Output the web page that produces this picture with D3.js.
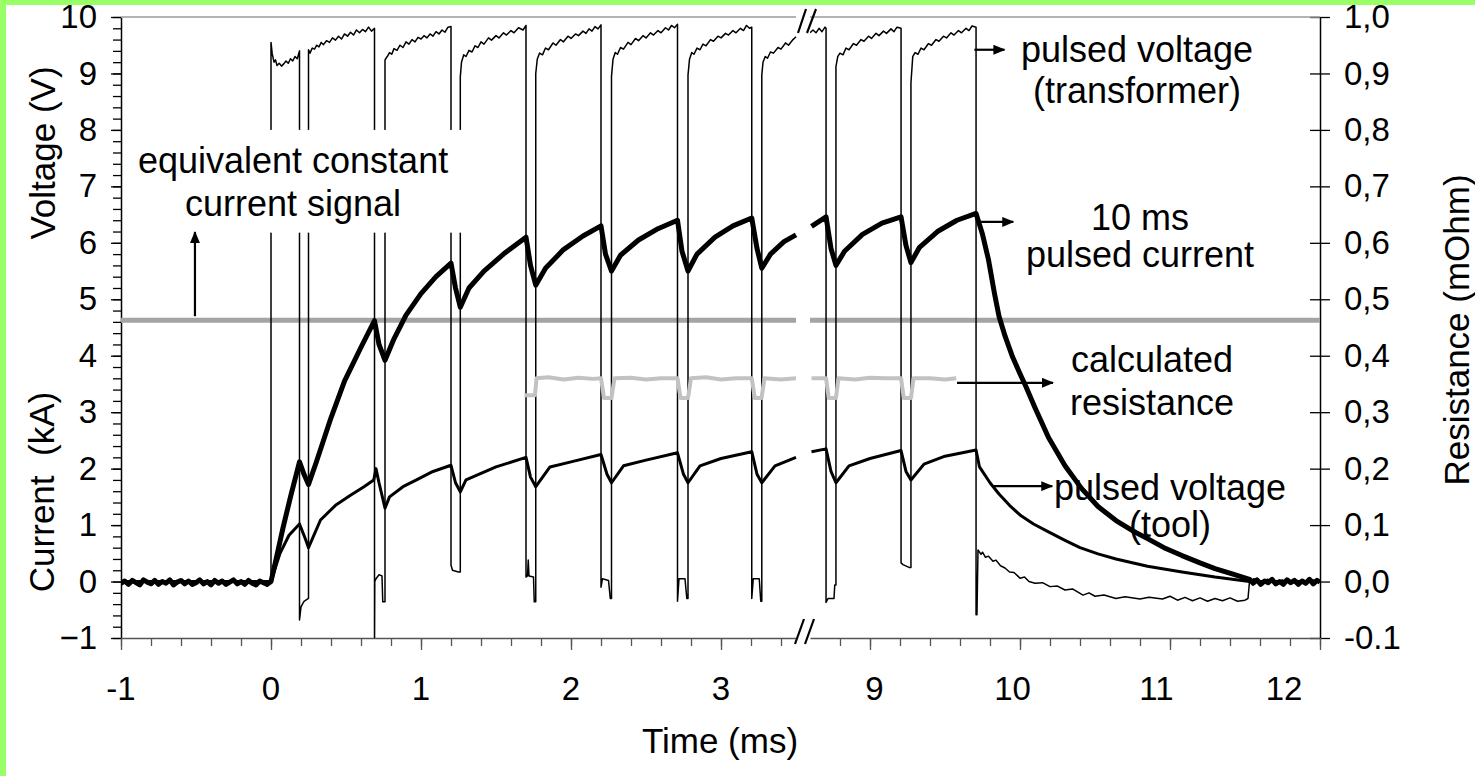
<!DOCTYPE html>
<html>
<head>
<meta charset="utf-8">
<script src="https://cdn.jsdelivr.net/npm/d3@7"></script>
<style>
  body { margin: 0; background: #fff; }
  svg { display: block; font-family: "Liberation Sans", Arial, sans-serif; }
</style>
</head>
<body>
<div id="chart"></div>
<script>
// ---- data (time in ms, voltage in V / current in kA, resistance in mOhm) ----
const equivalentCurrent = 4.63

const currentA = [
  [-1, -0.03], [-0.975, 0.01], [-0.95, -0.05], [-0.925, 0.02], [-0.9, -0.02], [-0.875, -0.06],
  [-0.85, 0.03], [-0.825, -0.01], [-0.8, -0.04], [-0.775, 0.02], [-0.75, -0.05], [-0.725, 0.0],
  [-0.7, -0.03], [-0.675, 0.03], [-0.65, -0.06], [-0.625, -0.01], [-0.6, 0.02], [-0.575, -0.04],
  [-0.55, 0.01], [-0.525, -0.05], [-0.5, -0.02], [-0.475, 0.03], [-0.45, -0.04], [-0.425, 0.0],
  [-0.4, -0.06], [-0.375, 0.02], [-0.35, -0.03], [-0.325, 0.01], [-0.3, -0.05], [-0.275, -0.01],
  [-0.25, 0.03], [-0.225, -0.04], [-0.2, 0.0], [-0.175, -0.05], [-0.15, 0.02], [-0.125, -0.03],
  [-0.1, -0.06], [-0.075, 0.01], [-0.05, -0.02], [-0.025, -0.05], [0, 0],
  [0.03, 0.35], [0.08, 0.95], [0.13, 1.5], [0.19, 2.12], [0.22, 1.9], [0.25, 1.72],
  [0.3, 2.1], [0.4, 2.9], [0.49, 3.55], [0.6, 4.15], [0.69, 4.62], [0.72, 4.2], [0.76, 3.92],
  [0.82, 4.3], [0.9, 4.72], [1.0, 5.1], [1.1, 5.4], [1.2, 5.64], [1.23, 5.2], [1.262, 4.86],
  [1.32, 5.2], [1.42, 5.5], [1.55, 5.8], [1.7, 6.1], [1.73, 5.6], [1.765, 5.25], [1.83, 5.55],
  [1.95, 5.88], [2.08, 6.12], [2.2, 6.3], [2.23, 5.8], [2.27, 5.5], [2.33, 5.78], [2.45, 6.05],
  [2.58, 6.25], [2.71, 6.4], [2.74, 5.85], [2.78, 5.5], [2.84, 5.8], [2.96, 6.1], [3.08, 6.3],
  [3.205, 6.44], [3.24, 5.9], [3.272, 5.55], [3.33, 5.8], [3.42, 6.02], [3.5, 6.14]
]
const currentB = [
  [8.61, 6.29], [8.707, 6.46], [8.74, 5.9], [8.773, 5.6], [8.83, 5.85], [8.95, 6.15],
  [9.08, 6.35], [9.207, 6.46], [9.24, 5.95], [9.273, 5.65], [9.33, 5.92], [9.45, 6.2],
  [9.58, 6.4], [9.707, 6.52], [9.75, 6.15], [9.79, 5.7], [9.83, 5.1], [9.86, 4.7],
  [9.9, 4.35], [9.95, 3.98], [10.0, 3.68], [10.04, 3.45], [10.1, 3.08], [10.19, 2.55],
  [10.3, 2.05], [10.41, 1.65], [10.52, 1.33], [10.64, 1.08], [10.75, 0.9], [10.85, 0.76],
  [10.96, 0.6], [11.08, 0.46], [11.2, 0.33], [11.3, 0.23], [11.42, 0.13], [11.53, 0.04],
  [11.555, -0.03], [11.58, 0.03], [11.605, -0.05], [11.63, 0.01], [11.655, -0.02], [11.68, 0.04],
  [11.705, -0.04], [11.73, 0.0], [11.755, -0.05], [11.78, 0.03], [11.805, -0.02], [11.83, 0.02],
  [11.855, -0.05], [11.88, 0.01], [11.905, -0.03], [11.93, 0.04], [11.955, -0.04], [11.98, 0.02],
  [12.0, -0.01]
]

const toolA = [
  [-1, 0], [0, 0], [0.06, 0.5], [0.12, 0.82], [0.19, 1.02], [0.23, 0.75], [0.25, 0.6],
  [0.33, 1.09], [0.43, 1.35], [0.53, 1.53], [0.62, 1.68], [0.685, 1.8], [0.7, 2.0],
  [0.72, 1.75], [0.76, 1.3], [0.79, 1.5], [0.88, 1.68], [0.97, 1.8], [1.08, 1.95],
  [1.2, 2.06], [1.23, 1.75], [1.262, 1.59], [1.3, 1.8], [1.5, 2.03], [1.7, 2.2], [1.73, 1.85],
  [1.765, 1.68], [1.86, 2.03], [2.0, 2.12], [2.2, 2.25], [2.24, 1.9], [2.27, 1.75],
  [2.35, 2.05], [2.5, 2.15], [2.71, 2.28], [2.75, 1.9], [2.78, 1.75], [2.86, 2.05],
  [3.0, 2.18], [3.205, 2.3], [3.24, 1.9], [3.272, 1.75], [3.36, 2.05], [3.5, 2.2]
]
const toolB = [
  [8.61, 2.3], [8.707, 2.35], [8.74, 1.95], [8.773, 1.75], [8.86, 2.05], [9.0, 2.18],
  [9.207, 2.32], [9.24, 1.95], [9.273, 1.8], [9.36, 2.08], [9.5, 2.22], [9.707, 2.33],
  [9.73, 2.03], [9.8, 1.75], [9.86, 1.55], [9.93, 1.35], [10.0, 1.18], [10.09, 1.02],
  [10.19, 0.88], [10.3, 0.73], [10.4, 0.6], [10.52, 0.49], [10.64, 0.4], [10.85, 0.27],
  [11.08, 0.17], [11.3, 0.08], [11.53, 0.0], [12, 0]
]

const transformerA = [
  [-1, 0], [0, 0],
  [0, 9.55], [0.008, 9.35], [0.02, 9.2], [0.03, 9.24], [0.04, 9.14], [0.055, 9.18], [0.07, 9.13],
  [0.085, 9.17], [0.1, 9.22], [0.115, 9.18], [0.13, 9.26], [0.145, 9.22], [0.16, 9.3], [0.175, 9.26],
  [0.19, 9.4],
  [0.19, -0.68], [0.2, -0.45], [0.22, -0.35], [0.25, -0.3],
  [0.25, 9.42], [0.26, 9.36], [0.275, 9.45], [0.29, 9.43], [0.305, 9.5], [0.32, 9.47], [0.335, 9.55],
  [0.35, 9.51], [0.37, 9.58], [0.39, 9.55], [0.41, 9.63], [0.43, 9.59], [0.45, 9.66], [0.47, 9.61],
  [0.49, 9.7], [0.51, 9.66], [0.53, 9.73], [0.55, 9.68], [0.57, 9.77], [0.59, 9.72], [0.61, 9.78],
  [0.63, 9.74], [0.65, 9.82], [0.67, 9.75], [0.69, 9.8],
  [0.69, -1.2], [0.692, 0.0], [0.7, 0.05], [0.72, 0.12], [0.74, 0.1], [0.745, -0.36], [0.76, -0.36],
  [0.76, 9.24], [0.775, 9.3], [0.79, 9.37], [0.805, 9.34], [0.82, 9.44], [0.84, 9.41], [0.86, 9.5],
  [0.88, 9.46], [0.9, 9.56], [0.92, 9.52], [0.94, 9.6], [0.96, 9.56], [0.98, 9.64], [1.0, 9.61],
  [1.02, 9.67], [1.04, 9.63], [1.06, 9.7], [1.08, 9.66], [1.1, 9.74], [1.12, 9.7], [1.14, 9.77],
  [1.16, 9.73], [1.18, 9.82], [1.2, 9.83],
  [1.2, 0.29], [1.21, 0.2], [1.25, 0.17], [1.262, 0.17],
  [1.262, 8.94], [1.27, 9.2], [1.285, 9.33], [1.3, 9.3], [1.32, 9.41], [1.34, 9.38], [1.36, 9.49],
  [1.38, 9.46], [1.4, 9.56], [1.42, 9.52], [1.45, 9.63], [1.47, 9.59], [1.5, 9.67], [1.52, 9.63],
  [1.55, 9.72], [1.57, 9.68], [1.6, 9.76], [1.62, 9.72], [1.65, 9.81], [1.68, 9.77], [1.7, 9.85],
  [1.7, 0.08], [1.71, 0.1], [1.715, 0.38], [1.72, 0.1], [1.75, 0.08], [1.755, -0.36], [1.765, -0.36],
  [1.765, 9.0], [1.775, 9.25], [1.79, 9.36], [1.81, 9.33], [1.83, 9.45], [1.85, 9.42], [1.88, 9.54],
  [1.9, 9.5], [1.93, 9.6], [1.95, 9.56], [1.98, 9.66], [2.0, 9.62], [2.03, 9.7], [2.05, 9.67],
  [2.08, 9.75], [2.1, 9.71], [2.12, 9.79], [2.14, 9.75], [2.16, 9.83], [2.18, 9.79], [2.2, 9.86],
  [2.2, -0.1], [2.21, 0.05], [2.25, 0.02], [2.262, -0.3], [2.27, -0.3],
  [2.27, 8.95], [2.28, 9.25], [2.295, 9.37], [2.31, 9.34], [2.33, 9.46], [2.35, 9.43], [2.38, 9.55],
  [2.4, 9.51], [2.43, 9.62], [2.45, 9.58], [2.48, 9.67], [2.5, 9.63], [2.53, 9.72], [2.55, 9.68],
  [2.58, 9.76], [2.6, 9.72], [2.63, 9.81], [2.65, 9.77], [2.67, 9.85], [2.69, 9.81], [2.71, 9.87],
  [2.71, -0.35], [2.72, 0.05], [2.76, 0.05], [2.772, -0.3], [2.78, -0.3],
  [2.78, 8.97], [2.79, 9.25], [2.805, 9.37], [2.82, 9.34], [2.84, 9.45], [2.86, 9.42], [2.88, 9.52],
  [2.9, 9.49], [2.93, 9.6], [2.95, 9.57], [2.98, 9.66], [3.0, 9.63], [3.03, 9.71], [3.05, 9.68],
  [3.08, 9.76], [3.1, 9.72], [3.13, 9.8], [3.15, 9.76], [3.17, 9.85], [3.19, 9.8], [3.205, 9.82],
  [3.205, -0.3], [3.215, 0.05], [3.255, 0.05], [3.265, -0.35], [3.272, -0.35],
  [3.272, 8.97], [3.28, 9.2], [3.295, 9.3], [3.31, 9.27], [3.33, 9.38], [3.35, 9.36], [3.38, 9.46],
  [3.4, 9.43], [3.43, 9.54], [3.45, 9.5], [3.48, 9.6], [3.5, 9.65]
]
const transformerB = [
  [8.6, 9.72], [8.62, 9.77], [8.64, 9.72], [8.66, 9.8], [8.68, 9.74], [8.7, 9.82], [8.707, 9.8],
  [8.707, -0.37], [8.72, -0.3], [8.76, -0.3], [8.765, -0.06], [8.773, -0.06],
  [8.773, 9.12], [8.785, 9.3], [8.8, 9.36], [8.82, 9.33], [8.84, 9.45], [8.86, 9.42], [8.89, 9.53],
  [8.91, 9.5], [8.94, 9.6], [8.96, 9.57], [8.99, 9.66], [9.01, 9.62], [9.04, 9.71], [9.06, 9.67],
  [9.09, 9.75], [9.11, 9.71], [9.14, 9.79], [9.16, 9.74], [9.18, 9.82], [9.207, 9.8],
  [9.207, 0.33], [9.22, 0.3], [9.26, 0.25], [9.273, 0.25],
  [9.273, 8.83], [9.285, 9.3], [9.3, 9.37], [9.32, 9.34], [9.34, 9.45], [9.36, 9.42], [9.39, 9.53],
  [9.41, 9.5], [9.44, 9.6], [9.46, 9.57], [9.49, 9.66], [9.51, 9.63], [9.54, 9.72], [9.56, 9.68],
  [9.59, 9.76], [9.61, 9.72], [9.64, 9.8], [9.66, 9.76], [9.68, 9.84], [9.707, 9.82],
  [9.707, -0.59], [9.713, -0.59], [9.72, 0.56], [9.74, 0.48], [9.75, 0.52], [9.77, 0.43],
  [9.79, 0.45], [9.82, 0.36], [9.84, 0.38], [9.87, 0.28], [9.9, 0.24], [9.93, 0.17], [9.96, 0.16],
  [10.0, 0.06], [10.03, 0.08], [10.06, 0.0], [10.1, -0.03], [10.15, -0.02], [10.2, -0.09],
  [10.25, -0.08], [10.3, -0.15], [10.35, -0.13], [10.42, -0.24], [10.46, -0.2], [10.5, -0.26],
  [10.56, -0.24], [10.64, -0.3], [10.7, -0.27], [10.8, -0.31], [10.86, -0.28], [10.95, -0.31],
  [11.0, -0.26], [11.05, -0.33], [11.1, -0.28], [11.15, -0.34], [11.2, -0.29], [11.25, -0.35],
  [11.3, -0.3], [11.35, -0.34], [11.4, -0.29], [11.45, -0.35], [11.5, -0.33],
  [11.52, -0.3], [11.53, 0], [11.56, 0.05], [11.6, -0.02], [11.65, 0.04], [11.7, -0.02],
  [11.75, 0.03], [11.8, -0.03], [11.85, 0.02], [11.9, -0.02], [11.95, 0.03], [12, 0.0]
]

const resistanceA = [
  [1.69, 0.33], [1.76, 0.33], [1.77, 0.36], [1.85, 0.362], [1.95, 0.358], [2.05, 0.361],
  [2.15, 0.359], [2.2, 0.36], [2.22, 0.325], [2.27, 0.325], [2.29, 0.36], [2.4, 0.361],
  [2.5, 0.358], [2.6, 0.36], [2.71, 0.36], [2.73, 0.325], [2.78, 0.325], [2.8, 0.36],
  [2.9, 0.362], [3.0, 0.358], [3.1, 0.36], [3.205, 0.36], [3.225, 0.325], [3.27, 0.325],
  [3.29, 0.36], [3.4, 0.358], [3.5, 0.36]
]
const resistanceB = [
  [8.61, 0.36], [8.707, 0.36], [8.725, 0.325], [8.773, 0.325], [8.79, 0.36], [8.9, 0.358],
  [9.0, 0.361], [9.1, 0.36], [9.207, 0.36], [9.225, 0.325], [9.273, 0.325], [9.29, 0.36],
  [9.4, 0.36], [9.5, 0.358], [9.575, 0.36]
]

const leftTicks = d3.range(-1, 11)
const rightTicks = d3.range(-1, 11).map(i => i / 10)
const rightTickLabels = ['-0.1', '0,0', '0,1', '0,2', '0,3', '0,4', '0,5', '0,6', '0,7', '0,8', '0,9', '1,0']
const timeTicksA = [-1, 0, 1, 2, 3]
const timeTicksB = [9, 10, 11, 12]
const timeLabelsB = ['9', '10', '11', '12']
const timeLabelPosB = [9.03, 9.95, 10.91, 11.76]

// ---- layout ----
const W = 1475, H = 776
const plotTop = 17, plotBottom = 638, plotLeft = 121, plotRight = 1320

const y = d3.scaleLinear().domain([-1, 10]).range([plotBottom, plotTop])
const yR = d3.scaleLinear().domain([-0.1, 1.0]).range([plotBottom, plotTop])
const xA = d3.scaleLinear().domain([-1, 3.5]).range([plotLeft, 796])
const xB = d3.scaleLinear().domain([8.6, 12]).range([810, plotRight])

const svg = d3.select('#chart').append('svg')
  .attr('width', W)
  .attr('height', H)

svg.append('rect').attr('width', W).attr('height', H).attr('fill', '#fff')
// green frame of the original picture
svg.append('rect').attr('x', 0).attr('y', 0).attr('width', 6).attr('height', H).attr('fill', '#99ff66')
svg.append('rect').attr('x', 0).attr('y', 0).attr('width', W).attr('height', 5).attr('fill', '#99ff66')

const defs = svg.append('defs')
defs.append('marker')
  .attr('id', 'arrow')
  .attr('markerUnits', 'userSpaceOnUse')
  .attr('markerWidth', 12).attr('markerHeight', 10)
  .attr('refX', 11).attr('refY', 5)
  .attr('orient', 'auto')
  .append('path').attr('d', 'M0,0 L12,5 L0,10 z').attr('fill', '#000')

defs.append('clipPath').attr('id', 'clipA')
  .append('rect').attr('x', plotLeft).attr('y', plotTop - 10)
  .attr('width', xA(3.5) - plotLeft + 2).attr('height', plotBottom - plotTop + 10)
defs.append('clipPath').attr('id', 'clipB')
  .append('rect').attr('x', xB(8.6)).attr('y', plotTop - 10)
  .attr('width', plotRight - xB(8.6)).attr('height', plotBottom - plotTop + 10)

const segs = [
  { x: xA, clip: 'clipA', current: currentA, tool: toolA, transformer: transformerA, resistance: resistanceA, range: [-1, 3.5] },
  { x: xB, clip: 'clipB', current: currentB, tool: toolB, transformer: transformerB, resistance: resistanceB, range: [8.6, 12] }
]

// ---- axes ----
const fontTick = '33px'
const fontTitle = '35px'

// left axis
svg.append('g')
  .attr('transform', `translate(${plotLeft},0)`)
  .call(d3.axisLeft(y).tickValues(d3.range(-5, 51).map(i => i / 5)).tickSize(8).tickFormat('').tickSizeOuter(0))
  .call(g => g.select('.domain').attr('stroke', '#000').attr('stroke-width', 1.5))
  .call(g => g.selectAll('.tick line').attr('stroke-width', 1.3))
svg.append('g')
  .attr('transform', `translate(${plotLeft},0)`)
  .call(d3.axisLeft(y).tickValues(leftTicks).tickSize(10).tickPadding(14).tickSizeOuter(0))
  .call(g => g.select('.domain').remove())
  .call(g => g.selectAll('.tick line').attr('stroke-width', 1.3))
  .call(g => g.selectAll('text').attr('font-size', fontTick).attr('font-family', null).attr('fill', '#000'))

// right axis
svg.append('g')
  .attr('transform', `translate(${plotRight},0)`)
  .call(d3.axisRight(yR).tickValues(rightTicks).tickSize(10).tickPadding(14).tickSizeOuter(0)
    .tickFormat((d, i) => rightTickLabels[i]))
  .call(g => g.select('.domain').attr('stroke', '#000').attr('stroke-width', 1.5))
  .call(g => g.selectAll('.tick line').attr('stroke-width', 1.3))
  .call(g => g.selectAll('text').attr('font-size', fontTick).attr('font-family', null).attr('fill', '#000'))
svg.append('g')
  .attr('transform', `translate(${plotRight},0)`)
  .call(d3.axisRight(yR).tickValues(rightTicks).tickSize(-10).tickFormat(''))
  .call(g => g.select('.domain').remove())
  .call(g => g.selectAll('.tick line').attr('stroke-width', 1.3))

// bottom axis (two pieces with a break)
segs.forEach((s, i) => {
  const minor = i === 0 ? d3.range(-5, 18).map(v => v / 5) : d3.range(44, 61).map(v => v / 5)
  const major = i === 0 ? timeTicksA : timeTicksB
  svg.append('g')
    .attr('transform', `translate(0,${plotBottom})`)
    .call(d3.axisBottom(s.x).tickValues(minor).tickSize(8).tickFormat('').tickSizeOuter(0))
    .call(g => g.select('.domain').attr('stroke', '#555').attr('stroke-width', 1.5))
    .call(g => g.selectAll('.tick line').attr('stroke', '#555').attr('stroke-width', 1.3))
  svg.append('g')
    .attr('transform', `translate(0,${plotBottom})`)
    .call(d3.axisBottom(s.x).tickValues(major).tickSize(12).tickFormat(''))
    .call(g => g.select('.domain').remove())
    .call(g => g.selectAll('.tick line').attr('stroke', '#555').attr('stroke-width', 1.3))
  // top frame line
  svg.append('line')
    .attr('x1', s.x(s.range[0])).attr('x2', s.x(s.range[1]))
    .attr('y1', plotTop).attr('y2', plotTop)
    .attr('stroke', '#9a9a9a').attr('stroke-width', 1.6)
})

svg.append('g').selectAll('text')
  .data(timeTicksA)
  .join('text')
  .attr('x', d => xA(d))
  .attr('y', 700)
  .attr('text-anchor', 'middle')
  .attr('font-size', fontTick)
  .text(d => d)
svg.append('g').selectAll('text')
  .data(timeLabelsB)
  .join('text')
  .attr('x', (d, i) => xB(timeLabelPosB[i]))
  .attr('y', 700)
  .attr('text-anchor', 'middle')
  .attr('font-size', fontTick)
  .text(d => d)

// break marks
const cx = (xA(3.5) + xB(8.6)) / 2
const breakG = svg.append('g').attr('stroke', '#000').attr('stroke-width', 2.2)
;[[cx - 8, plotBottom + 6, cx + 1, plotBottom - 19], [cx + 2, plotBottom + 6, cx + 11, plotBottom - 19],
  [cx - 5, plotTop + 16, cx + 3, plotTop - 8], [cx + 4, plotTop + 16, cx + 13, plotTop - 8]].forEach(l => {
  breakG.append('line').attr('x1', l[0]).attr('y1', l[1]).attr('x2', l[2]).attr('y2', l[3])
})

// axis titles
svg.append('text').attr('transform', 'translate(55,153) rotate(-90)')
  .attr('text-anchor', 'middle').attr('font-size', fontTitle).text('Voltage (V)')
svg.append('text').attr('transform', 'translate(54,492) rotate(-90)')
  .attr('text-anchor', 'middle').attr('font-size', fontTitle).style('white-space', 'pre').text('Current  (kA)')
svg.append('text').attr('transform', 'translate(1469,330) rotate(-90)')
  .attr('text-anchor', 'middle').attr('font-size', fontTitle).text('Resistance (mOhm)')
svg.append('text').attr('x', 720).attr('y', 753)
  .attr('text-anchor', 'middle').attr('font-size', fontTitle).text('Time (ms)')

// ---- series ----
segs.forEach(s => {
  const g = svg.append('g').attr('clip-path', `url(#${s.clip})`)
  const line = d3.line().x(d => s.x(d[0])).y(d => y(d[1]))
  const lineR = d3.line().x(d => s.x(d[0])).y(d => yR(d[1]))

  g.append('path')
    .attr('d', line([[s.range[0], equivalentCurrent], [s.range[1], equivalentCurrent]]))
    .attr('fill', 'none').attr('stroke', '#a4a4a4').attr('stroke-width', 5)
  g.append('path')
    .attr('d', line(s.transformer))
    .attr('fill', 'none').attr('stroke', '#000').attr('stroke-width', 1.5).attr('stroke-linejoin', 'round')
  g.append('path')
    .attr('d', lineR(s.resistance))
    .attr('fill', 'none').attr('stroke', '#c2c2c2').attr('stroke-width', 4).attr('stroke-linejoin', 'round')
  g.append('path')
    .attr('d', line(s.tool))
    .attr('fill', 'none').attr('stroke', '#000').attr('stroke-width', 3).attr('stroke-linejoin', 'round')
  g.append('path')
    .attr('d', line(s.current))
    .attr('fill', 'none').attr('stroke', '#000').attr('stroke-width', 5).attr('stroke-linejoin', 'round')
})

// ---- annotations ----
const fontNote = '36px'
function note(x, ys, lines) {
  lines.forEach((t, i) => {
    svg.append('text').attr('x', x).attr('y', ys[i])
      .attr('text-anchor', 'middle').attr('font-size', fontNote).text(t)
  })
}
function arrow(x1, y1, x2, y2) {
  svg.append('line')
    .attr('x1', x1).attr('y1', y1).attr('x2', x2).attr('y2', y2)
    .attr('stroke', '#000').attr('stroke-width', 2.2)
    .attr('marker-end', 'url(#arrow)')
}

// label box that hides the pulse edges behind the text
svg.append('rect')
  .attr('x', xA(-0.95)).attr('y', y(8.0))
  .attr('width', xA(1.3) - xA(-0.95)).attr('height', y(6.18) - y(8.0))
  .attr('fill', '#fff')
note(xA(0.147), [y(7.23), y(6.47)], ['equivalent constant', 'current signal'])
arrow(xA(-0.507), y(4.7), xA(-0.507), y(6.19))

arrow(xB(9.696), y(9.42), xB(9.896), y(9.42))
note(xB(10.78), [y(9.2), y(8.48)], ['pulsed voltage', '(transformer)'])

arrow(xB(9.72), y(6.37), xB(9.955), y(6.37))
note(xB(10.8), [y(6.23), y(5.58)], ['10 ms', 'pulsed current'])

arrow(xB(9.58), y(3.52), xB(10.22), y(3.52))
note(xB(10.88), [y(3.71), y(2.95)], ['calculated', 'resistance'])

arrow(xB(9.82), y(1.69), xB(10.215), y(1.69))
note(xB(11.0), [y(1.44), y(0.79)], ['pulsed voltage', '(tool)'])
</script>
</body>
</html>
